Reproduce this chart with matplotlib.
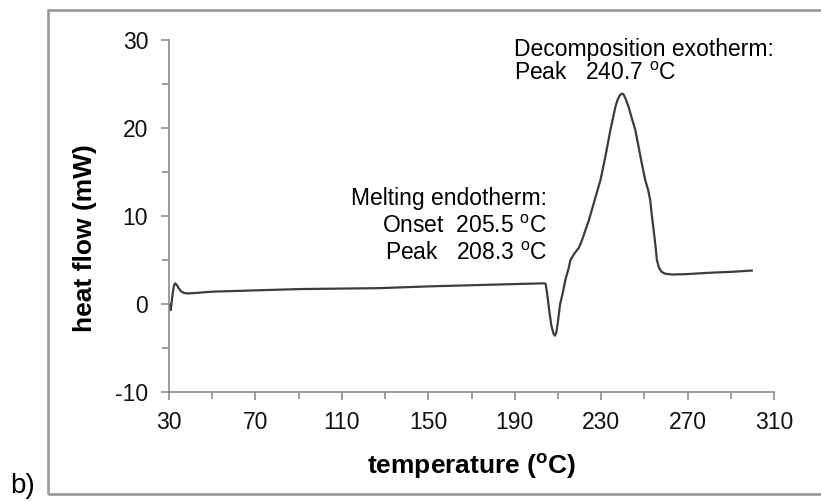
import numpy as np
from matplotlib import pyplot as plt
from matplotlib.patches import Rectangle

plt.rcParams.update({
    "font.family": ["Liberation Sans", "DejaVu Sans"],
    "mathtext.fontset": "custom",
    "mathtext.rm": "Liberation Sans",
    "mathtext.it": "Liberation Sans:italic",
    "mathtext.bf": "Liberation Sans:bold",
    "axes.unicode_minus": False,
})

# DSC trace: temperature (C) and heat flow (mW)
temperature = [30.3, 30.8, 31.5, 32.2, 32.8, 33.5, 34.5, 35.5, 37.0, 38.8,
               42, 50, 70, 91, 127, 150, 180, 203.5, 204.3, 205.0,
               206.0, 207.0, 208.0, 208.6, 209.3, 210.0, 211.0, 212.0, 213.5, 215.0,
               215.8, 217.5, 219.7, 221.2, 224.3, 227.0, 229.7, 232.0, 234.3, 236.6,
               237.6, 238.6, 239.5, 240.3, 241.2, 242.7, 244.2, 245.8, 247.3, 248.8,
               250.4, 251.8, 252.7, 253.5, 254.3, 255.2, 255.8, 256.8, 258.0, 259.5,
               262.7, 270, 280, 290, 299.7]
heat_flow = [-0.1, -0.7, 0.8, 2.0, 2.35, 2.2, 1.8, 1.45, 1.25, 1.2,
             1.25, 1.4, 1.55, 1.7, 1.8, 2.0, 2.2, 2.35, 2.3, 1.2,
             -0.8, -2.5, -3.4, -3.6, -3.2, -2.0, 0.0, 1.0, 2.8, 4.1,
             5.0, 5.7, 6.4, 7.3, 9.5, 11.8, 14.1, 16.8, 19.8, 22.4,
             23.2, 23.7, 23.9, 23.85, 23.4, 22.4, 21.1, 19.8, 17.9, 16.0,
             14.1, 12.9, 11.8, 10.0, 8.4, 6.5, 5.0, 4.1, 3.65, 3.45,
             3.35, 3.4, 3.55, 3.65, 3.8]

x_major = [30, 70, 110, 150, 190, 230, 270, 310]
y_major = [-10, 0, 10, 20, 30]

W, H = 821, 501
fig = plt.figure(figsize=(W / 100, H / 100), dpi=100)
ax = fig.add_axes([169 / W, 1 - 392 / H, (774 - 169) / W, (392 - 40) / H])

ax.plot(temperature, heat_flow, color="#3c3c3c", linewidth=1.6)

ax.set_xlim(30, 310)
ax.set_ylim(-10, 30)
ax.set_xticks(x_major)
ax.set_xticks(np.arange(50, 310, 40), minor=True)
ax.set_yticks(y_major)
ax.set_yticks(np.arange(-5, 30, 10), minor=True)

grey = "#8c8c8c"
for side in ["top", "right"]:
    ax.spines[side].set_visible(False)
for side in ["left", "bottom"]:
    ax.spines[side].set_color(grey)
    ax.spines[side].set_linewidth(1.2)
ax.tick_params(which="both", direction="out", color=grey, width=1.2,
               labelsize=16.5, labelcolor="#111111")
ax.tick_params(which="major", length=6)
ax.tick_params(which="minor", length=5)
ax.tick_params(axis="y", pad=9)
ax.tick_params(axis="x", pad=8)

# annotations
fs = 16.5
ax.text(189.7, 28.2, "Decomposition exotherm:", fontsize=fs, ha="left", va="baseline")
ax.text(189.7, 25.5, "Peak   240.7 $^{\\mathrm{o}}$C", fontsize=fs, ha="left", va="baseline")
ax.text(205.0, 11.25, "Melting endotherm:", fontsize=fs, ha="right", va="baseline")
ax.text(205.0, 8.1, "Onset  205.5 $^{\\mathrm{o}}$C", fontsize=fs, ha="right", va="baseline")
ax.text(205.0, 5.0, "Peak   208.3 $^{\\mathrm{o}}$C", fontsize=fs, ha="right", va="baseline")

# axis titles
fig.text(472 / W, 1 - 474 / H, "temperature ($\\mathbf{^{o}}$C)", fontsize=19,
         fontweight="bold", ha="center", va="baseline")
fig.text(85 / W, 1 - 238 / H, "heat flow (mW)", fontsize=19, fontweight="bold",
         rotation=90, ha="center", va="center")

# panel frame and label
fig.add_artist(Rectangle((48 / W, 1 - 494 / H), 1.0, (494 - 10) / H,
                         transform=fig.transFigure, fill=False,
                         edgecolor="#999999", linewidth=1.9))
fig.text(10 / W, 1 - 493 / H, "b)", fontsize=20, ha="left", va="baseline")

fig.savefig("out.png", dpi=100)
